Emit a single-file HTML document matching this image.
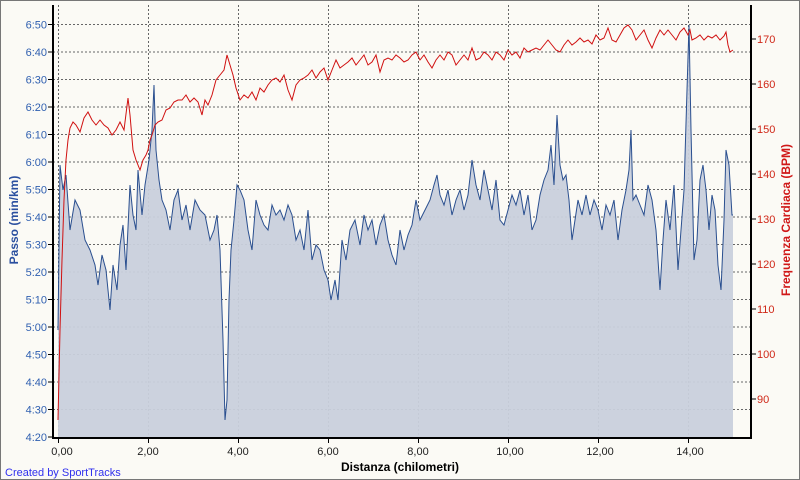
<!DOCTYPE html>
<html><head><meta charset="utf-8"><style>
html,body{margin:0;padding:0;background:#fbfaf5}
svg{display:block}
text{font-family:"Liberation Sans",sans-serif}
</style></head><body>
<svg width="800" height="480" viewBox="0 0 800 480" xmlns="http://www.w3.org/2000/svg">
<rect x="0.5" y="0.5" width="799" height="479" fill="#fbfaf5" stroke="#777" stroke-width="1"/>
<g id="grid" stroke="#666" stroke-width="1" stroke-dasharray="2,2" fill="none">
<line x1="53" y1="24.5" x2="751" y2="24.5"/><line x1="53" y1="52" x2="751" y2="52"/><line x1="53" y1="79.5" x2="751" y2="79.5"/><line x1="53" y1="107" x2="751" y2="107"/><line x1="53" y1="134.5" x2="751" y2="134.5"/><line x1="53" y1="162" x2="751" y2="162"/><line x1="53" y1="189.5" x2="751" y2="189.5"/><line x1="53" y1="217" x2="751" y2="217"/><line x1="53" y1="244.5" x2="751" y2="244.5"/><line x1="53" y1="272" x2="751" y2="272"/><line x1="53" y1="299.5" x2="751" y2="299.5"/><line x1="53" y1="327" x2="751" y2="327"/><line x1="53" y1="354.5" x2="751" y2="354.5"/><line x1="53" y1="382" x2="751" y2="382"/><line x1="53" y1="409.5" x2="751" y2="409.5"/>
<line x1="58.5" y1="5" x2="58.5" y2="438"/><line x1="148.5" y1="5" x2="148.5" y2="438"/><line x1="238.5" y1="5" x2="238.5" y2="438"/><line x1="328.5" y1="5" x2="328.5" y2="438"/><line x1="418.5" y1="5" x2="418.5" y2="438"/><line x1="508.5" y1="5" x2="508.5" y2="438"/><line x1="598.5" y1="5" x2="598.5" y2="438"/><line x1="688.5" y1="5" x2="688.5" y2="438"/>
</g>
<polygon fill="#c9d0dc" fill-opacity="0.95" points="58,438 58,330 60,165 63,190 66,175 70,230 75,200 80,210 85,240 90,250 95,265 98,285 102,255 106,270 110,310 113,265 117,290 120,245 123,225 126,270 130,185 133,215 136,230 138,170 142,215 145,185 149,160 152,130 154,85 156,150 159,180 162,200 166,210 170,230 174,200 178,190 182,220 186,205 190,230 195,200 200,210 205,215 210,240 214,230 217,215 220,250 223,340 225,420 227,400 229,300 231,250 234,220 237,185 240,190 244,200 248,230 252,250 256,200 260,215 264,225 268,230 272,205 276,215 280,210 284,220 288,205 292,215 296,240 300,230 304,250 308,210 312,260 316,245 320,250 324,270 328,280 331,300 335,280 338,300 342,240 346,260 350,230 355,220 360,245 364,215 368,230 372,220 376,245 380,225 384,215 388,240 392,255 396,265 400,230 404,250 408,235 412,225 416,200 420,220 425,210 430,200 434,185 437,175 440,195 444,205 448,190 452,215 456,200 460,190 464,210 468,195 472,160 476,185 480,200 484,170 488,190 492,210 496,180 500,220 504,225 508,210 512,195 516,205 520,190 524,215 528,195 532,230 536,220 540,195 544,180 548,170 551,145 554,185 557,115 560,165 563,180 566,175 569,200 572,240 575,220 578,200 582,215 586,195 590,215 594,200 598,210 602,230 606,205 610,215 614,200 618,240 622,210 626,190 629,170 631,130 633,200 636,195 640,205 644,215 648,185 652,200 656,230 660,290 663,240 666,200 670,230 674,185 678,270 681,230 684,190 687,90 689,25 691,130 694,260 697,240 700,180 703,165 706,190 709,230 712,195 715,210 718,265 721,290 724,220 726,150 729,165 732,215 733,215 733,438"/>
<polyline fill="none" stroke="#2a4f8f" stroke-width="1" points="58,330 60,165 63,190 66,175 70,230 75,200 80,210 85,240 90,250 95,265 98,285 102,255 106,270 110,310 113,265 117,290 120,245 123,225 126,270 130,185 133,215 136,230 138,170 142,215 145,185 149,160 152,130 154,85 156,150 159,180 162,200 166,210 170,230 174,200 178,190 182,220 186,205 190,230 195,200 200,210 205,215 210,240 214,230 217,215 220,250 223,340 225,420 227,400 229,300 231,250 234,220 237,185 240,190 244,200 248,230 252,250 256,200 260,215 264,225 268,230 272,205 276,215 280,210 284,220 288,205 292,215 296,240 300,230 304,250 308,210 312,260 316,245 320,250 324,270 328,280 331,300 335,280 338,300 342,240 346,260 350,230 355,220 360,245 364,215 368,230 372,220 376,245 380,225 384,215 388,240 392,255 396,265 400,230 404,250 408,235 412,225 416,200 420,220 425,210 430,200 434,185 437,175 440,195 444,205 448,190 452,215 456,200 460,190 464,210 468,195 472,160 476,185 480,200 484,170 488,190 492,210 496,180 500,220 504,225 508,210 512,195 516,205 520,190 524,215 528,195 532,230 536,220 540,195 544,180 548,170 551,145 554,185 557,115 560,165 563,180 566,175 569,200 572,240 575,220 578,200 582,215 586,195 590,215 594,200 598,210 602,230 606,205 610,215 614,200 618,240 622,210 626,190 629,170 631,130 633,200 636,195 640,205 644,215 648,185 652,200 656,230 660,290 663,240 666,200 670,230 674,185 678,270 681,230 684,190 687,90 689,25 691,130 694,260 697,240 700,180 703,165 706,190 709,230 712,195 715,210 718,265 721,290 724,220 726,150 729,165 732,215 733,215"/>
<polyline fill="none" stroke="#d01010" stroke-width="1" points="58,420 60,330 62,260 64,200 66,160 68,140 70,128 73,122 76,125 80,132 84,118 88,112 92,120 96,125 100,120 104,125 108,128 112,135 116,130 120,122 124,130 128,98 130,115 133,150 136,160 140,170 143,160 146,155 148,150 150,140 152,135 155,125 158,122 162,120 166,110 170,108 174,102 178,100 182,100 186,95 190,102 194,98 198,102 202,115 205,100 208,105 212,95 216,80 220,75 224,70 227,55 230,65 233,75 236,88 240,100 244,95 248,98 252,92 256,100 260,88 264,92 268,85 272,80 276,78 280,82 284,75 288,90 292,100 296,85 300,80 304,78 308,75 312,70 316,78 320,72 324,68 328,80 332,70 336,60 340,68 344,65 348,62 352,58 356,65 360,60 364,55 368,65 372,62 376,55 380,72 384,60 388,58 392,60 396,55 400,58 404,62 408,60 412,55 416,52 420,60 424,55 428,62 432,68 436,60 440,55 444,60 448,52 452,55 456,65 460,60 464,55 468,60 472,48 476,60 480,58 484,52 488,55 492,60 496,52 500,55 504,60 508,50 512,55 516,52 520,58 524,48 528,52 532,50 536,48 540,50 544,45 548,40 552,45 556,50 560,52 564,45 568,40 572,45 576,42 580,38 584,42 588,40 592,44 596,35 600,40 604,38 608,28 612,40 616,42 620,35 624,28 628,25 632,30 636,40 640,35 644,30 648,40 652,48 656,38 660,30 664,35 668,30 672,35 676,40 680,32 684,28 688,35 690,30 692,40 696,38 700,35 704,40 708,36 712,38 716,35 720,40 724,36 726,32 728,45 730,52 733,50"/>
<g stroke="#000" stroke-width="2" fill="none"><line x1="53" y1="5" x2="53" y2="439"/><line x1="751" y1="5" x2="751" y2="439"/><line x1="52" y1="438" x2="752" y2="438"/></g>
<g stroke="#000" stroke-width="1">
<line x1="48" y1="24.5" x2="53" y2="24.5"/><line x1="48" y1="52" x2="53" y2="52"/><line x1="48" y1="79.5" x2="53" y2="79.5"/><line x1="48" y1="107" x2="53" y2="107"/><line x1="48" y1="134.5" x2="53" y2="134.5"/><line x1="48" y1="162" x2="53" y2="162"/><line x1="48" y1="189.5" x2="53" y2="189.5"/><line x1="48" y1="217" x2="53" y2="217"/><line x1="48" y1="244.5" x2="53" y2="244.5"/><line x1="48" y1="272" x2="53" y2="272"/><line x1="48" y1="299.5" x2="53" y2="299.5"/><line x1="48" y1="327" x2="53" y2="327"/><line x1="48" y1="354.5" x2="53" y2="354.5"/><line x1="48" y1="382" x2="53" y2="382"/><line x1="48" y1="409.5" x2="53" y2="409.5"/><line x1="48" y1="437" x2="53" y2="437"/>
<line x1="751" y1="39" x2="756" y2="39"/><line x1="751" y1="84" x2="756" y2="84"/><line x1="751" y1="129" x2="756" y2="129"/><line x1="751" y1="174" x2="756" y2="174"/><line x1="751" y1="219" x2="756" y2="219"/><line x1="751" y1="264" x2="756" y2="264"/><line x1="751" y1="309" x2="756" y2="309"/><line x1="751" y1="354" x2="756" y2="354"/><line x1="751" y1="399" x2="756" y2="399"/>
<line x1="58.5" y1="438" x2="58.5" y2="443"/><line x1="148.5" y1="438" x2="148.5" y2="443"/><line x1="238.5" y1="438" x2="238.5" y2="443"/><line x1="328.5" y1="438" x2="328.5" y2="443"/><line x1="418.5" y1="438" x2="418.5" y2="443"/><line x1="508.5" y1="438" x2="508.5" y2="443"/><line x1="598.5" y1="438" x2="598.5" y2="443"/><line x1="688.5" y1="438" x2="688.5" y2="443"/>
</g>
<g font-size="11" fill="#2f5fb0" text-anchor="end">
<text x="47" y="28.5">6:50</text><text x="47" y="56">6:40</text><text x="47" y="83.5">6:30</text><text x="47" y="111">6:20</text><text x="47" y="138.5">6:10</text><text x="47" y="166">6:00</text><text x="47" y="193.5">5:50</text><text x="47" y="221">5:40</text><text x="47" y="248.5">5:30</text><text x="47" y="276">5:20</text><text x="47" y="303.5">5:10</text><text x="47" y="331">5:00</text><text x="47" y="358.5">4:50</text><text x="47" y="386">4:40</text><text x="47" y="413.5">4:30</text><text x="47" y="441">4:20</text>
</g>
<g font-size="11" fill="#d02818">
<text x="757" y="43">170</text><text x="757" y="88">160</text><text x="757" y="133">150</text><text x="757" y="178">140</text><text x="757" y="223">130</text><text x="757" y="268">120</text><text x="757" y="313">110</text><text x="757" y="358">100</text><text x="757" y="403">90</text>
</g>
<g font-size="11" fill="#222" text-anchor="middle">
<text x="62" y="455">0,00</text><text x="148" y="455">2,00</text><text x="238" y="455">4,00</text><text x="328" y="455">6,00</text><text x="418" y="455">8,00</text><text x="510" y="455">10,00</text><text x="600" y="455">12,00</text><text x="690" y="455">14,00</text>
</g>
<text x="400" y="471" font-size="12" font-weight="bold" text-anchor="middle" fill="#000">Distanza (chilometri)</text>
<text x="5" y="476" font-size="11" fill="#3030ee">Created by SportTracks</text>
<text transform="translate(18,220) rotate(-90)" font-size="12" font-weight="bold" fill="#2a4f9f" text-anchor="middle">Passo (min/km)</text>
<text transform="translate(790,220) rotate(-90)" font-size="12" font-weight="bold" fill="#d01818" text-anchor="middle">Frequenza Cardiaca (BPM)</text>
</svg>
</body></html>
